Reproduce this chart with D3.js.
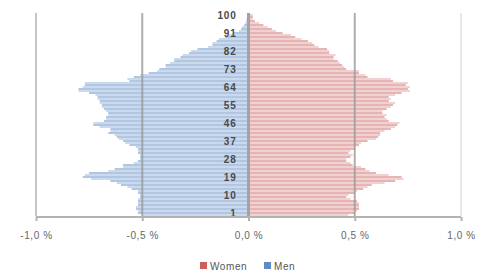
<!DOCTYPE html>
<html lang="en">
<meta charset="utf-8">
<style>
  body { margin: 0; background: #fff; }
  text { font-family: "Liberation Sans", Arial, sans-serif; }
</style>
<body>
<div id="my_dataviz"></div>

<script src="https://d3js.org/d3.v7.min.js"></script>

<script>

// ages 0..100, values in percent of total population
var ages = d3.range(0, 101);

var women = [
  0.47, 0.50, 0.51, 0.52, 0.52, 0.52, 0.52, 0.51, 0.48, 0.46,
  0.47, 0.50, 0.51, 0.54, 0.56, 0.58, 0.64, 0.69, 0.73, 0.72,
  0.66, 0.60, 0.57, 0.55, 0.53, 0.49, 0.48, 0.46, 0.46, 0.48,
  0.49, 0.47, 0.48, 0.50, 0.50, 0.52, 0.53, 0.56, 0.60, 0.61,
  0.62, 0.62, 0.64, 0.67, 0.69, 0.70, 0.71, 0.66, 0.65, 0.64,
  0.65, 0.63, 0.63, 0.65, 0.67, 0.68, 0.69, 0.66, 0.67, 0.66,
  0.69, 0.72, 0.76, 0.75, 0.76, 0.74, 0.75, 0.68, 0.67, 0.56,
  0.55, 0.52, 0.52, 0.46, 0.45, 0.44, 0.43, 0.42, 0.40, 0.40,
  0.41, 0.38, 0.38, 0.37, 0.33, 0.31, 0.30, 0.28, 0.25, 0.22,
  0.20, 0.16, 0.13, 0.11, 0.09, 0.07, 0.05, 0.03, 0.02, 0.02,
  0.02
];

var men = [
  0.50, 0.52, 0.52, 0.53, 0.53, 0.52, 0.52, 0.52, 0.52, 0.51,
  0.51, 0.52, 0.52, 0.55, 0.57, 0.60, 0.62, 0.65, 0.74, 0.78,
  0.77, 0.75, 0.66, 0.63, 0.59, 0.59, 0.54, 0.52, 0.51, 0.51,
  0.51, 0.52, 0.52, 0.52, 0.53, 0.56, 0.58, 0.59, 0.61, 0.62,
  0.63, 0.66, 0.65, 0.65, 0.70, 0.73, 0.73, 0.68, 0.67, 0.67,
  0.66, 0.66, 0.67, 0.68, 0.69, 0.69, 0.70, 0.70, 0.71, 0.71,
  0.72, 0.75, 0.80, 0.80, 0.78, 0.77, 0.77, 0.56, 0.57, 0.54,
  0.51, 0.47, 0.43, 0.42, 0.39, 0.39, 0.37, 0.35, 0.35, 0.32,
  0.31, 0.28, 0.27, 0.24, 0.19, 0.17, 0.17, 0.15, 0.14, 0.11,
  0.09, 0.07, 0.045, 0.035, 0.03, 0.02, 0.015, 0.01, 0.01, 0.005,
  0.005
];

var ageTicks = [1, 10, 19, 28, 37, 46, 55, 64, 73, 82, 91, 100];
var xTicks = [-1, -0.5, 0, 0.5, 1];
var seriesNames = ["Women", "Men"];

var width = 494, height = 280;

var svg = d3.select("#my_dataviz")
  .append("svg")
    .attr("width", width)
    .attr("height", height);

var x = d3.scaleLinear()
  .domain([-1, 1])
  .range([36, 461]);

var y = d3.scaleBand()
  .domain(ages.slice().reverse())
  .range([14, 216])
  .padding(0);

// bars: men to the left, women to the right
svg.append("g").selectAll("rect")
  .data(ages)
  .enter()
  .append("rect")
    .attr("x", function(d) { return x(-men[d]); })
    .attr("y", function(d) { return y(d); })
    .attr("width", function(d) { return x(0) - x(-men[d]); })
    .attr("height", y.bandwidth())
    .style("fill", function(d) { return d % 2 ? "#b0c6e2" : "#cbd9ec"; });

svg.append("g").selectAll("rect")
  .data(ages)
  .enter()
  .append("rect")
    .attr("x", x(0))
    .attr("y", function(d) { return y(d); })
    .attr("width", function(d) { return x(women[d]) - x(0); })
    .attr("height", y.bandwidth())
    .style("fill", function(d) { return d % 2 ? "#e5b4b3" : "#f0d2d2"; });

// vertical gridlines
svg.append("g").selectAll("line")
  .data(xTicks.filter(function(d) { return d !== 0; }))
  .enter()
  .append("line")
    .attr("x1", function(d) { return x(d); })
    .attr("x2", function(d) { return x(d); })
    .attr("y1", 13)
    .attr("y2", 216)
    .style("stroke", function(d) { return d === 1 ? "#e8e8e8" : (d === -1 ? "#c6c6c6" : "#9a9a9a"); })
    .style("stroke-opacity", function(d) { return Math.abs(d) === 0.5 ? 0.8 : 1; })
    .style("stroke-width", 2);

// zero line (category axis)
svg.append("line")
  .attr("x1", x(0)).attr("x2", x(0))
  .attr("y1", 13).attr("y2", 217)
  .style("stroke", "#a3a3a3")
  .style("stroke-width", 3);

// age labels
svg.append("g").selectAll("text")
  .data(ageTicks)
  .enter()
  .append("text")
    .attr("x", x(0) - 12)
    .attr("y", function(d) { return y(d) + y.bandwidth() / 2; })
    .attr("dy", "0.35em")
    .attr("text-anchor", "end")
    .style("font-size", "10px")
    .style("font-weight", "bold")
    .style("letter-spacing", "0.8px")
    .style("fill", "#4a4a4a")
    .text(function(d) { return d; });

// bottom axis
var xAxis = svg.append("g")
  .attr("transform", "translate(0,217)")
  .call(d3.axisBottom(x)
    .tickValues(xTicks)
    .tickSize(4)
    .tickPadding(11)
    .tickFormat(function(d) { return d3.format(".1f")(d).replace(".", ",").replace("−", "-") + " %"; }));

xAxis.select(".domain")
  .attr("d", "M" + x(-1) + ",0H" + x(1))
  .style("stroke", "#b3b3b3")
  .style("stroke-width", 2);
xAxis.selectAll(".tick line")
  .style("stroke", "#b3b3b3")
  .style("stroke-width", 2);
xAxis.selectAll(".tick text")
  .style("font-size", "10px")
  .style("letter-spacing", "0.6px")
  .style("fill", "#666")
  .style("font-family", "Liberation Sans, Arial, sans-serif");

// legend
var legendColors = ["#cc605d", "#5f8cc6"];
var legendX = [200, 264];
var legend = svg.append("g").selectAll("g")
  .data(seriesNames)
  .enter()
  .append("g")
    .attr("transform", function(d, i) { return "translate(" + legendX[i] + ",262)"; });
legend.append("rect")
  .attr("width", 7)
  .attr("height", 7)
  .style("fill", function(d, i) { return legendColors[i]; });
legend.append("text")
  .attr("x", 10)
  .attr("y", 4)
  .attr("dy", "0.35em")
  .style("font-size", "10px")
  .style("letter-spacing", "0.6px")
  .style("fill", "#555")
  .text(function(d) { return d; });

</script>
</body>
</html>
